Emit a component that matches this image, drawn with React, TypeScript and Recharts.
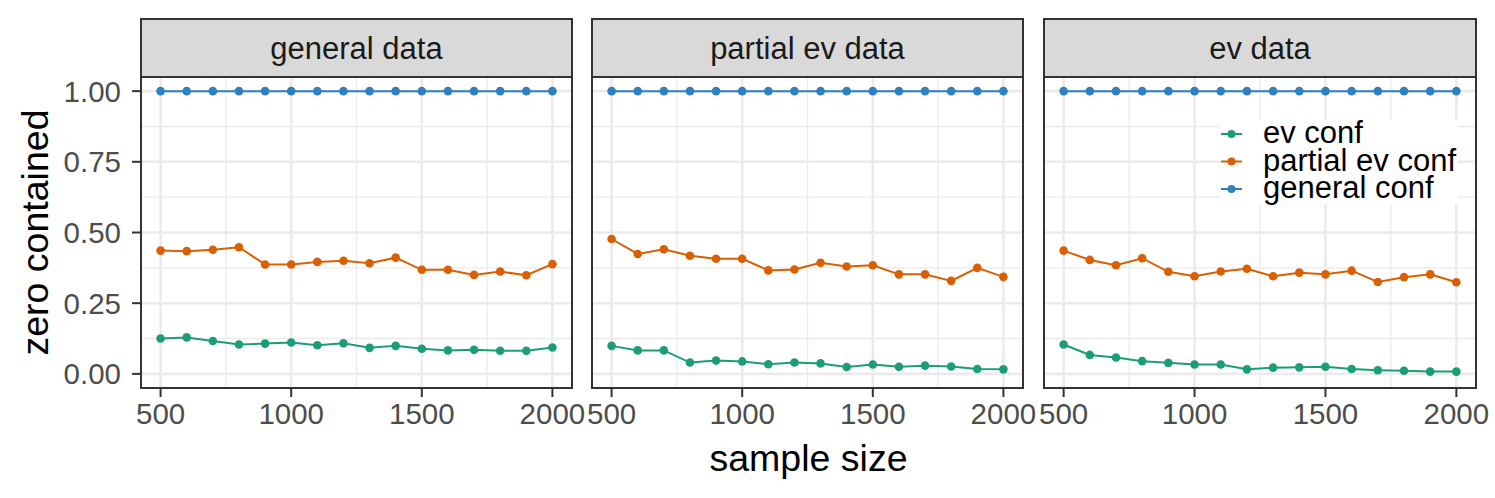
import React from 'react';
import { LineChart, Line, XAxis, YAxis, CartesianGrid } from 'recharts';

// ---------- data ----------
const sampleSizes = [500, 600, 700, 800, 900, 1000, 1100, 1200, 1300, 1400, 1500, 1600, 1700, 1800, 1900, 2000];
const facetLabels = ['general data', 'partial ev data', 'ev data'];
const seriesKeys = ['ev', 'partial', 'general'];
const seriesNames = ['ev conf', 'partial ev conf', 'general conf'];
const seriesColors = ['#1B9E77', '#D95F02', '#2F80C2'];
const xTicks = [500, 1000, 1500, 2000];
const xMinor = [750, 1250, 1750];
const yTicks = [0, 0.25, 0.5, 0.75, 1];
const yMinor = [0.125, 0.375, 0.625, 0.875];
const xDomain = [425, 2075];
const yDomain = [-0.05, 1.05];

const generalDataEv = [0.125, 0.129, 0.116, 0.104, 0.107, 0.111, 0.101, 0.108, 0.092, 0.099, 0.089, 0.083, 0.085, 0.082, 0.082, 0.093];
const generalDataPartial = [0.436, 0.434, 0.439, 0.448, 0.387, 0.387, 0.396, 0.400, 0.391, 0.411, 0.368, 0.368, 0.350, 0.362, 0.349, 0.388];
const generalDataGeneral = [1, 1, 1, 1, 1, 1, 1, 1, 1, 1, 1, 1, 1, 1, 1, 1];

const partialDataEv = [0.099, 0.083, 0.083, 0.040, 0.047, 0.044, 0.034, 0.040, 0.037, 0.024, 0.033, 0.025, 0.029, 0.026, 0.017, 0.016];
const partialDataPartial = [0.477, 0.424, 0.441, 0.418, 0.407, 0.407, 0.366, 0.369, 0.393, 0.380, 0.384, 0.352, 0.352, 0.329, 0.375, 0.343];
const partialDataGeneral = [1, 1, 1, 1, 1, 1, 1, 1, 1, 1, 1, 1, 1, 1, 1, 1];

const evDataEv = [0.104, 0.067, 0.058, 0.045, 0.039, 0.033, 0.033, 0.016, 0.022, 0.023, 0.025, 0.017, 0.013, 0.011, 0.008, 0.008];
const evDataPartial = [0.436, 0.403, 0.384, 0.409, 0.361, 0.345, 0.362, 0.372, 0.345, 0.358, 0.352, 0.365, 0.325, 0.342, 0.352, 0.324];
const evDataGeneral = [1, 1, 1, 1, 1, 1, 1, 1, 1, 1, 1, 1, 1, 1, 1, 1];

const facetSeries = [
  [generalDataEv, generalDataPartial, generalDataGeneral],
  [partialDataEv, partialDataPartial, partialDataGeneral],
  [evDataEv, evDataPartial, evDataGeneral],
];

const tables = facetSeries.map((series) =>
  sampleSizes.map((n, i) => {
    const row: any = { n };
    seriesKeys.forEach((k, s) => {
      row[k] = series[s][i];
    });
    return row;
  })
);

// ---------- layout ----------
const W = 1495;
const H = 498;
const FONT = '"Liberation Sans", Arial, Helvetica, sans-serif';
const PANEL_TOP = 77;
const PANEL_BOTTOM = 388;
const STRIP_TOP = 19;
const panelLefts = [141, 592, 1044];
const panelWidths = [431, 431, 432];
const X_AXIS_H = 44;
const TICK_FS = 29.5;
const STRIP_FS = 31;
const LEGEND_FS = 31;
const TITLE_FS = 37.5;

function Facet({ idx }: { idx: number }) {
  const pl = panelLefts[idx];
  const pw = panelWidths[idx];
  const ml = idx === 0 ? 141 : 20;
  const mr = idx === 2 ? W - (pl + pw) : 40;
  const chartW = ml + pw + mr;
  const yAxisW = idx === 0 ? 100 : 0;
  return (
    <div style={{ position: 'absolute', left: pl - ml, top: 0, width: chartW, height: H }}>
      <LineChart
        width={chartW}
        height={H}
        data={tables[idx]}
        margin={{ top: PANEL_TOP, bottom: H - PANEL_BOTTOM - X_AXIS_H, left: ml - yAxisW, right: mr }}
        style={{ overflow: 'visible' }}
      >
        <CartesianGrid
          stroke="#EBEBEB"
          strokeWidth={1.3}
          horizontalValues={yMinor}
          verticalValues={xMinor}
          fill="#FFFFFF"
        />
        <CartesianGrid
          stroke="#EBEBEB"
          strokeWidth={2.6}
          horizontalValues={yTicks}
          verticalValues={xTicks}
        />
        <XAxis
          dataKey="n"
          type="number"
          domain={xDomain}
          ticks={xTicks}
          interval={0}
          allowDataOverflow
          height={X_AXIS_H}
          axisLine={false}
          tickSize={9}
          tickMargin={6}
          tickLine={{ stroke: '#333333', strokeWidth: 2 }}
          tick={{ fill: '#4D4D4D', fontSize: TICK_FS, fontFamily: FONT }}
        />
        {idx === 0 ? (
          <YAxis
            type="number"
            domain={yDomain}
            ticks={yTicks}
            interval={0}
            allowDataOverflow
            width={yAxisW}
            axisLine={false}
            tickSize={9}
            tickMargin={11}
            tickLine={{ stroke: '#333333', strokeWidth: 2 }}
            tick={{ fill: '#4D4D4D', fontSize: TICK_FS, fontFamily: FONT }}
            tickFormatter={(v: number) => v.toFixed(2)}
          />
        ) : (
          <YAxis type="number" domain={yDomain} ticks={yTicks} allowDataOverflow hide />
        )}
        {seriesKeys.map((k, s) => (
          <Line
            key={k}
            dataKey={k}
            name={seriesNames[s]}
            stroke={seriesColors[s]}
            strokeWidth={2}
            dot={{ r: 4.3, fill: seriesColors[s], stroke: seriesColors[s], strokeWidth: 0 }}
            activeDot={false}
            isAnimationActive={false}
          />
        ))}
      </LineChart>
    </div>
  );
}

function Overlay() {
  const legendX = 1220;
  const legendRows = [134, 161.5, 189];
  return (
    <svg
      width={W}
      height={H}
      style={{ position: 'absolute', left: 0, top: 0, pointerEvents: 'none' }}
      fontFamily={FONT}
    >
      {panelLefts.map((pl, i) => (
        <g key={i}>
          <rect
            x={pl}
            y={STRIP_TOP}
            width={panelWidths[i]}
            height={PANEL_TOP - STRIP_TOP}
            fill="#D9D9D9"
            stroke="#333333"
            strokeWidth={2}
          />
          <text
            x={pl + panelWidths[i] / 2}
            y={(STRIP_TOP + PANEL_TOP) / 2 + 10.5}
            textAnchor="middle"
            fontSize={STRIP_FS}
            fill="#1A1A1A"
          >
            {facetLabels[i]}
          </text>
          <rect
            x={pl}
            y={PANEL_TOP}
            width={panelWidths[i]}
            height={PANEL_BOTTOM - PANEL_TOP}
            fill="none"
            stroke="#333333"
            strokeWidth={2}
          />
        </g>
      ))}
      {/* legend */}
      <rect x={legendX} y={120} width={238} height={84} fill="#FFFFFF" />
      {seriesNames.map((name, s) => (
        <g key={name}>
          <line
            x1={legendX + 1}
            x2={legendX + 22}
            y1={legendRows[s]}
            y2={legendRows[s]}
            stroke={seriesColors[s]}
            strokeWidth={2}
          />
          <circle cx={legendX + 11.5} cy={legendRows[s]} r={4} fill={seriesColors[s]} />
          <text x={legendX + 43} y={legendRows[s] + 9} fontSize={LEGEND_FS} fill="#000000">
            {name}
          </text>
        </g>
      ))}
      {/* axis titles */}
      <text x={(panelLefts[0] + panelLefts[2] + panelWidths[2]) / 2} y={471} textAnchor="middle" fontSize={TITLE_FS} fill="#000000">
        sample size
      </text>
      <text
        transform={`translate(48, ${(PANEL_TOP + PANEL_BOTTOM) / 2}) rotate(-90)`}
        textAnchor="middle"
        fontSize={TITLE_FS}
        fill="#000000"
      >
        zero contained
      </text>
    </svg>
  );
}

export default function App() {
  return (
    <div
      style={{
        position: 'absolute',
        left: 0,
        top: 0,
        width: W,
        height: H,
        background: '#FFFFFF',
        fontFamily: FONT,
        overflow: 'hidden',
      }}
    >
      {[0, 1, 2].map((i) => (
        <Facet key={i} idx={i} />
      ))}
      <Overlay />
    </div>
  );
}
